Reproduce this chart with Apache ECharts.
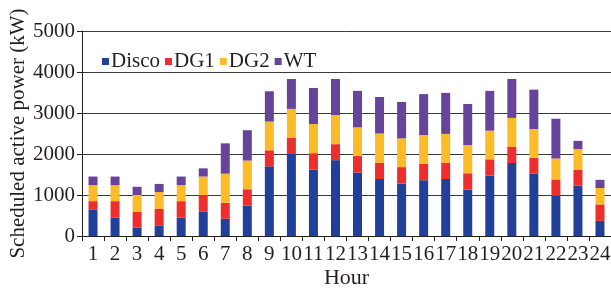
<!DOCTYPE html>
<html><head><meta charset="utf-8">
<script src="https://cdn.jsdelivr.net/npm/echarts@6/dist/echarts.min.js"></script>
<style>html,body{margin:0;padding:0;background:#fff}#c{width:611px;height:289px}</style>
</head><body><div id="c"></div>
<script>
const hours = ['1','2','3','4','5','6','7','8','9','10','11','12','13','14','15','16','17','18','19','20','21','22','23','24'];
const disco = [650,450,200,260,450,600,420,740,1700,2000,1620,1850,1550,1390,1280,1360,1390,1130,1470,1780,1520,980,1230,370];
const dg1 = [200,400,390,400,400,400,390,400,390,400,400,390,400,400,400,400,400,400,400,400,390,400,390,400];
const dg2 = [390,390,410,410,390,450,710,700,700,700,710,710,700,710,700,700,700,690,700,700,700,510,500,400];
const wt = [210,210,200,200,210,200,740,740,740,730,880,880,890,890,890,1000,1000,1000,970,950,960,970,200,200];
const yTicks = [0,1000,2000,3000,4000,5000];

const font = 'Liberation Serif';
const txt = '#231f20';
const chart = echarts.init(document.getElementById('c'));
const mk = (name, data, color) => ({
  name, type: 'bar', stack: 'p', data, barWidth: 9,
  itemStyle: { color }
});
chart.setOption({
  animation: false,
  textStyle: { fontFamily: font },
  grid: { left: 82, right: 0, top: 31, bottom: 53, containLabel: false, outerBoundsMode: 'none' },
  legend: {
    left: 97, top: 46, itemWidth: 7, itemHeight: 7, itemGap: 5,
    icon: 'rect',
    textStyle: { fontFamily: font, fontSize: 21, color: txt, padding: [0, 0, 0, -3] },
    data: ['Disco', 'DG1', 'DG2', 'WT']
  },
  xAxis: {
    type: 'category', data: hours,
    name: 'Hour', nameLocation: 'middle', nameGap: 31, nameMoveOverlap: false,
    nameTextStyle: { fontFamily: font, fontSize: 22, color: txt },
    axisLine: { lineStyle: { color: '#231f20', width: 1 } },
    axisTick: { show: true, length: 5, lineStyle: { color: '#231f20' } },
    axisLabel: { fontFamily: font, fontSize: 21, color: txt, margin: 8, interval: 0 }
  },
  yAxis: {
    type: 'value', min: 0, max: 5000, interval: 1000,
    name: 'Scheduled active power (kW)', nameLocation: 'middle', nameGap: 53, nameMoveOverlap: false,
    nameTextStyle: { fontFamily: font, fontSize: 21, color: txt },
    axisLine: { show: true, lineStyle: { color: '#231f20', width: 1 } },
    axisTick: { show: true, length: 5, lineStyle: { color: '#231f20' } },
    axisLabel: { fontFamily: font, fontSize: 21, color: txt, margin: 7,
      formatter: v => yTicks.includes(v) ? String(v) : '' },
    splitLine: { lineStyle: { color: '#3a3a3a', width: 1 } }
  },
  series: [
    mk('Disco', disco, '#22409a'),
    mk('DG1', dg1, '#ee2d2d'),
    mk('DG2', dg2, '#fdbb27'),
    mk('WT', wt, '#66449a')
  ]
});
</script></body></html>
